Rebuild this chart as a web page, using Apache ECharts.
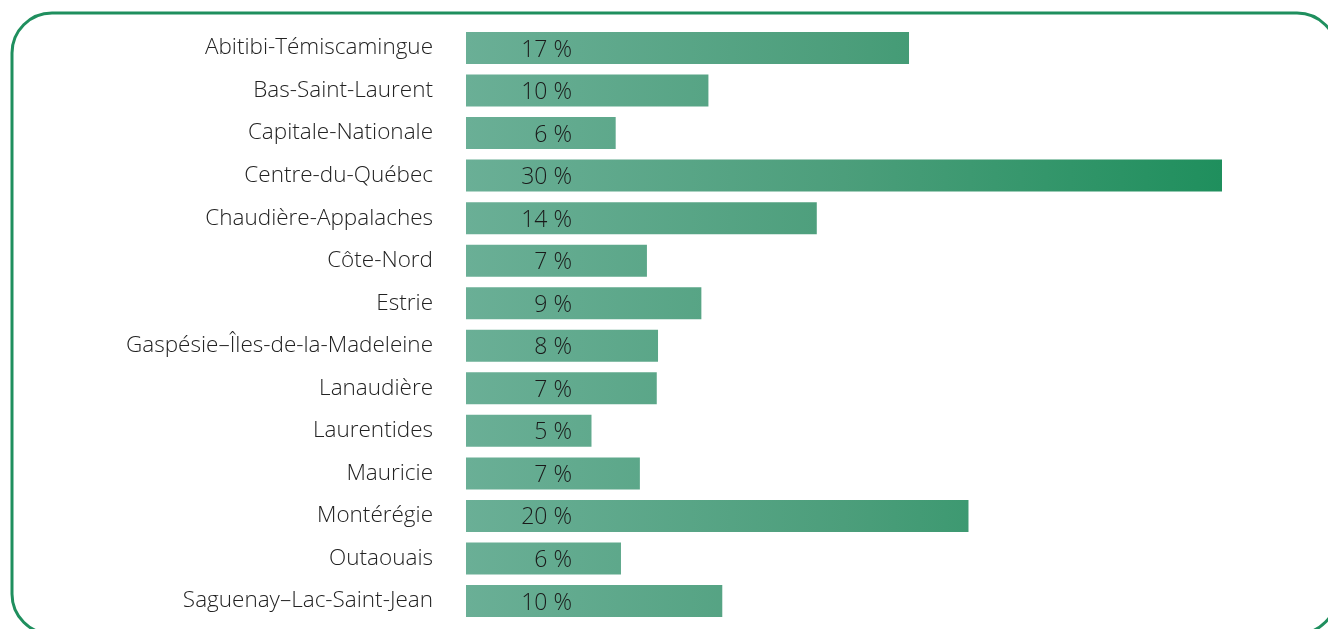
<!DOCTYPE html>
<html>
<head>
<meta charset="utf-8">
<script src="https://cdn.jsdelivr.net/npm/echarts@6/dist/echarts.min.js"></script>
<style>
html,body{margin:0;padding:0;background:#fff;}
#c{width:1328px;height:629px;}
</style>
</head>
<body>
<div id="c"></div>
<script>
const categories = ["Abitibi-Témiscamingue","Bas-Saint-Laurent","Capitale-Nationale","Centre-du-Québec","Chaudière-Appalaches","Côte-Nord","Estrie","Gaspésie–Îles-de-la-Madeleine","Lanaudière","Laurentides","Mauricie","Montérégie","Outaouais","Saguenay–Lac-Saint-Jean"];
const values = [17.58, 9.62, 5.94, 30.0, 13.92, 7.18, 9.34, 7.62, 7.57, 4.98, 6.90, 19.94, 6.15, 10.17];
const valueLabels = ["17 %","10 %","6 %","30 %","14 %","7 %","9 %","8 %","7 %","5 %","7 %","20 %","6 %","10 %"];

const chart = echarts.init(document.getElementById('c'));
const FONT = '"Open Sans", sans-serif';
chart.setOption({
  animation: false,
  grid: {left: 466, right: 106, top: 26.7, bottom: 6.7},
  xAxis: {type: 'value', min: 0, max: 30, show: false},
  yAxis: {
    type: 'category', data: categories, inverse: true,
    axisLine: {show: false}, axisTick: {show: false}, splitLine: {show: false},
    axisLabel: {margin: 33, color: '#222', fontSize: 22.5, fontWeight: 300, fontFamily: FONT, padding: [0, 0, 8, 0]}
  },
  series: [{
    type: 'bar', data: values, barWidth: 32,
    itemStyle: {
      color: new echarts.graphic.LinearGradient(466, 0, 1222, 0, [
        {offset: 0, color: '#6aaf96'},
        {offset: 0.5, color: '#4c9e7b'},
        {offset: 1, color: '#1f8f5d'}
      ], true)
    },
    label: {
      show: true, position: [106, '50%'], align: 'right', verticalAlign: 'middle', offset: [0, 2],
      color: '#1a1a1a', fontSize: 23, fontWeight: 300, fontFamily: FONT,
      formatter: p => valueLabels[p.dataIndex]
    }
  }],
  graphic: [{
    type: 'rect', silent: true, z: -1,
    shape: {x: 12, y: 13, width: 1325, height: 621, r: 40},
    style: {fill: 'none', stroke: '#1f8f5e', lineWidth: 3}
  }]
});
</script>
</body>
</html>
